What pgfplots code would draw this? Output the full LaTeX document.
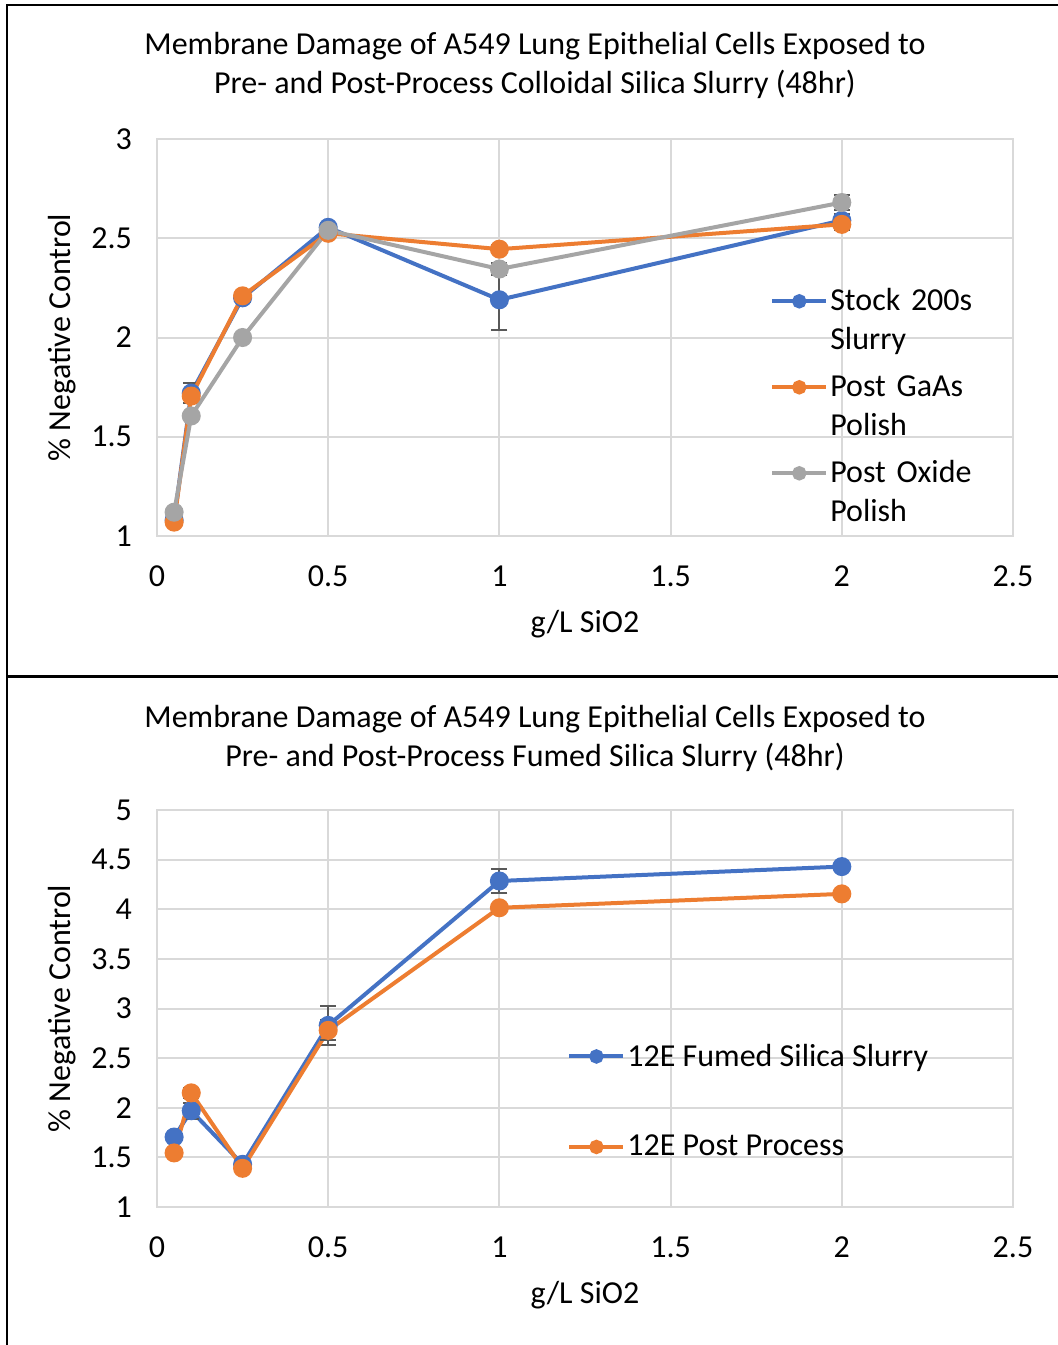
\documentclass[border=0pt]{standalone}
\usepackage{fontspec}
\setmainfont{Carlito}
\usepackage{pgfplots}
\pgfplotsset{compat=1.18}
\definecolor{SBlue}{HTML}{4472C4}
\definecolor{SOrange}{HTML}{ED7D31}
\definecolor{SGray}{HTML}{A5A5A5}
\definecolor{Grid}{HTML}{D9D9D9}
\definecolor{ErrC}{HTML}{595959}

% colloidal silica (top)
\pgfplotstableread{
x    y     e
0.05 1.08  0.03
0.1  1.72  0.05
0.25 2.20  0.02
0.5  2.555 0.02
1    2.19  0.15
2    2.59  0.03
}\stock
\pgfplotstableread{
x    y     e
0.05 1.07  0.02
0.1  1.705 0.02
0.25 2.21  0.02
0.5  2.525 0.02
1    2.445 0.02
2    2.57  0.03
}\gaas
\pgfplotstableread{
x    y     e
0.05 1.12  0.02
0.1  1.605 0.02
0.25 2.00  0.01
0.5  2.54  0.01
1    2.345 0.03
2    2.68  0.04
}\oxide
% fumed silica (bottom)
\pgfplotstableread{
x    y     e
0.05 1.705 0.03
0.1  1.97  0.08
0.25 1.43  0.03
0.5  2.83  0.20
1    4.285 0.12
2    4.43  0.02
}\fumed
\pgfplotstableread{
x    y     e
0.05 1.545 0.02
0.1  2.15  0.05
0.25 1.39  0.02
0.5  2.78  0.10
1    4.015 0.04
2    4.155 0.02
}\fumedpost

\newcommand\ff{\fontsize{16}{19.5}\selectfont}

\pgfplotsset{
  exc/.style={
    scale only axis, width=428pt, height=198.5pt,
    xmin=0, xmax=2.5, xtick={0,0.5,...,2.5},
    grid=major, grid style={Grid, line width=1pt},
    axis line style={Grid, line width=1pt},
    major tick length=0pt,
    tick label style={font=\ff, text=black},
    /pgf/number format/assume math mode=true,
    yticklabel style={xshift=-9pt},
    xticklabel style={yshift=-11.5pt},
    every axis y label/.style={at={(axis description cs:-0.111,0.5)}, rotate=90, anchor=center, font=\ff},
    every axis x label/.style={at={(axis description cs:0.5,-0.222)}, anchor=center, font=\ff},
    xlabel={g/L SiO2}, ylabel={\% Negative Control},
    legend cell align=left,
  },
  ser/.style={color=#1, line width=2pt, mark=*, mark size=3.75pt,
    mark options={solid, fill=#1, draw=#1},
    error bars/.cd, y dir=both, y explicit,
    error bar style={ErrC, line width=1pt},
    error mark options={ErrC, rotate=90, line width=1pt, mark size=4pt}},
}

\begin{document}
\begin{tikzpicture}
\useasboundingbox (0,0) rectangle (529pt,-672.5pt);
\draw[black, line width=1pt] (3.5pt,-672.5pt) -- (3.5pt,-2.5pt) -- (529pt,-2.5pt);
\draw[black, line width=1.5pt] (3.5pt,-338pt) -- (529pt,-338pt);

\node[align=center, font=\ff] at (267.5pt,-32.75pt)
  {Membrane Damage of A549 Lung Epithelial Cells Exposed to\\Pre- and Post-Process Colloidal Silica Slurry (48hr)};
\node[align=center, font=\ff] at (267.5pt,-369.25pt)
  {Membrane Damage of A549 Lung Epithelial Cells Exposed to\\Pre- and Post-Process Fumed Silica Slurry (48hr)};

\begin{axis}[exc, at={(78.5pt,-268pt)}, anchor=south west,
  ymin=1, ymax=3, ytick={1,1.5,...,3},
  legend image code/.code={\draw[mark repeat=2,mark phase=2,#1,mark size=2.6pt] plot coordinates {(0pt,11pt) (13.5pt,11pt) (27pt,11pt)};},
  legend style={draw=none, fill=none, at={(axis description cs:0.716,0.63)}, anchor=north west,
    font=\ff, row sep=6pt, inner sep=0pt,
    nodes={text width=75pt, align=left, inner sep=1pt, text height=11pt, text depth=24pt}},
]
\addplot[ser=SBlue] table[x=x, y=y, y error=e] {\stock};
\addlegendentry{Stock 200s\\Slurry}
\addplot[ser=SOrange] table[x=x, y=y, y error=e] {\gaas};
\addlegendentry{Post GaAs\\Polish}
\addplot[ser=SGray] table[x=x, y=y, y error=e] {\oxide};
\addlegendentry{Post Oxide\\Polish}
\end{axis}

\begin{axis}[exc, at={(78.5pt,-603.5pt)}, anchor=south west,
  ymin=1, ymax=5, ytick={1,1.5,...,5},
  yticklabel style={/pgf/number format/.cd, fixed, precision=1},
  legend image code/.code={\draw[mark repeat=2,mark phase=2,#1,mark size=2.6pt] plot coordinates {(0pt,0pt) (13.5pt,0pt) (27pt,0pt)};},
  legend style={draw=none, fill=none, at={(axis description cs:0.479,0.417)}, anchor=north west,
    font=\ff, row sep=31pt, inner sep=0pt,
    nodes={inner sep=1pt}},
]
\addplot[ser=SBlue] table[x=x, y=y, y error=e] {\fumed};
\addlegendentry{12E Fumed Silica Slurry}
\addplot[ser=SOrange] table[x=x, y=y, y error=e] {\fumedpost};
\addlegendentry{12E Post Process}
\end{axis}
\end{tikzpicture}
\end{document}
